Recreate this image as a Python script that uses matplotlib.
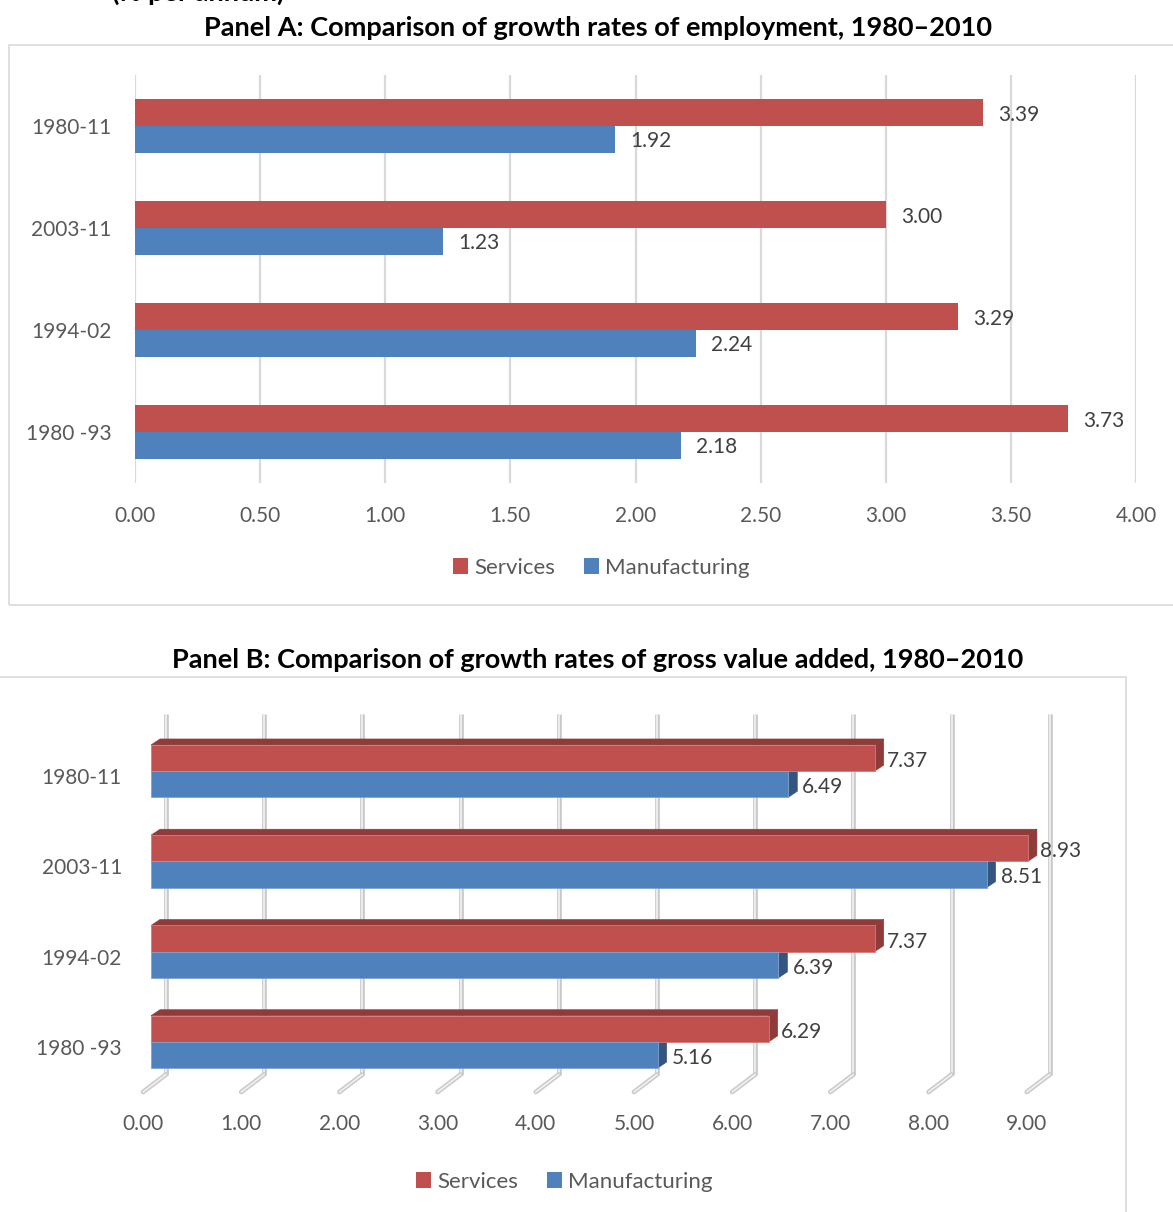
import matplotlib
matplotlib.use("Agg")
import matplotlib.pyplot as plt
from matplotlib.patches import Patch, Polygon, Rectangle
from matplotlib.transforms import ScaledTranslation
import matplotlib.patheffects as pe

# ---- data -------------------------------------------------------------
periods = ["1980-11", "2003-11", "1994-02", "1980 -93"]
series_names = ["Services", "Manufacturing"]

emp_services = [3.39, 3.00, 3.29, 3.73]
emp_manufacturing = [1.92, 1.23, 2.24, 2.18]
emp_ticks = [0.0, 0.5, 1.0, 1.5, 2.0, 2.5, 3.0, 3.5, 4.0]

gva_services = [7.37, 8.93, 7.37, 6.29]
gva_manufacturing = [6.49, 8.51, 6.39, 5.16]
gva_ticks = [0, 1, 2, 3, 4, 5, 6, 7, 8, 9]

title_a = "Panel A: Comparison of growth rates of employment, 1980\u20132010"
title_b = "Panel B: Comparison of growth rates of gross value added, 1980\u20132010"
unit_note = "(% per annum)"

# ---- style ------------------------------------------------------------
RED = "#C0504D"
BLUE = "#4F81BD"
RED_DARK = "#8E3B39"
BLUE_DARK = "#34557F"
GRID = "#D9D9D9"
TICK = "#595959"
VALUE = "#404040"
FONT = ["Lato", "DejaVu Sans"]
plt.rcParams["font.family"] = FONT

W, H, DPI = 1173, 1212, 100
fig = plt.figure(figsize=(W / DPI, H / DPI), dpi=DPI)


def px_box(left, top, right, bottom):
    return [left / W, 1 - bottom / H, (right - left) / W, (bottom - top) / H]


def shift(dx_px, dy_px):
    # screen offset in pixels (y measured upward)
    return ScaledTranslation(dx_px / DPI, dy_px / DPI, fig.dpi_scale_trans)


# ---- frames and titles --------------------------------------------------
frame_a = Rectangle((9 / W, 1 - 605 / H), 1.2, (605 - 45) / H,
                    transform=fig.transFigure, fill=False,
                    edgecolor=GRID, linewidth=1.2)
frame_b = Rectangle((-10 / W, 1 - 1230 / H), (1126 + 10) / W, (1230 - 677) / H,
                    transform=fig.transFigure, fill=False,
                    edgecolor=GRID, linewidth=1.2)
fig.add_artist(frame_a)
fig.add_artist(frame_b)

fig.text(598 / W, 1 - 28 / H, title_a, ha="center", va="center",
         fontsize=19.5, fontweight="bold", color="black")
fig.text(598 / W, 1 - 660 / H, title_b, ha="center", va="center",
         fontsize=19.5, fontweight="bold", color="black")
# heading line above the panels, running off the top edge of the page
fig.text(112 / W, 1 - 1 / H, unit_note, ha="left", va="baseline",
         fontsize=19.5, fontweight="bold", color="black")

BAR_H_A = 0.26
BAR_H_B = 0.29
ypos = list(range(len(periods)))

# ---- Panel A: flat clustered bars --------------------------------------
ax_a = fig.add_axes(px_box(135, 75, 1136, 483))
ax_a.barh([y - BAR_H_A / 2 for y in ypos], emp_services, height=BAR_H_A,
          color=RED, zorder=3)
ax_a.barh([y + BAR_H_A / 2 for y in ypos], emp_manufacturing, height=BAR_H_A,
          color=BLUE, zorder=3)
ax_a.set_xlim(emp_ticks[0], emp_ticks[-1])
ax_a.set_ylim(len(periods) - 0.5, -0.5)
ax_a.set_xticks(emp_ticks)
ax_a.set_xticklabels([f"{t:.2f}" for t in emp_ticks])
ax_a.set_yticks(ypos)
ax_a.set_yticklabels(periods)
ax_a.grid(axis="x", color=GRID, linewidth=1.6, zorder=0)
ax_a.set_axisbelow(True)
for s in ax_a.spines.values():
    s.set_visible(False)
ax_a.tick_params(axis="both", length=0, labelsize=15, labelcolor=TICK)
ax_a.tick_params(axis="x", pad=16.2)
ax_a.tick_params(axis="y", pad=17)

for y, v in zip(ypos, emp_services):
    ax_a.text(v, y - BAR_H_A / 2, f"{v:.2f}", ha="left", va="center",
              fontsize=15, color=VALUE,
              transform=ax_a.transData + shift(15, -2))
for y, v in zip(ypos, emp_manufacturing):
    ax_a.text(v, y + BAR_H_A / 2, f"{v:.2f}", ha="left", va="center",
              fontsize=15, color=VALUE,
              transform=ax_a.transData + shift(15, -2))

handles = [Patch(facecolor=RED, edgecolor="none"),
           Patch(facecolor=BLUE, edgecolor="none")]
fig.legend(handles, series_names, loc="center", bbox_to_anchor=(601 / W, 1 - 568 / H),
           ncol=2, frameon=False, fontsize=16, labelcolor=TICK,
           handlelength=0.7, handleheight=0.7, handletextpad=0.25,
           columnspacing=1.3)

# ---- Panel B: bars with a 3-D look -------------------------------------
left_b, top_b, bottom_b = 151, 726, 1087
unit_px = 98.2
xmax_b = 9.3
ax_b = fig.add_axes(px_box(left_b, top_b, left_b + xmax_b * unit_px, bottom_b))
ax_b.set_xlim(0, xmax_b)
ax_b.set_ylim(len(periods) - 0.5, -0.5)
ax_b.axis("off")
ax_b.patch.set_visible(False)

cat_px = (bottom_b - top_b) / len(periods)
depth_dx = 9 / unit_px        # bar depth, data units along x
depth_dy = 6 / cat_px         # bar depth, category units (upward)

# back wall grid lines and floor
wall_dx, wall_dy = 15, 12.5
floor_dx, floor_dy = -8, -5
h_px = bottom_b - top_b
grid_fx = [pe.withStroke(linewidth=3.4, foreground="#C9C9C9")]
for t in gva_ticks:
    ax_b.vlines(t, wall_dy / h_px, 1 + wall_dy / h_px,
                transform=ax_b.get_xaxis_transform() + shift(wall_dx, 0),
                color="#EFEFEF", linewidth=1.3, path_effects=grid_fx,
                clip_on=False, zorder=0)
    ax_b.plot([t + wall_dx / unit_px, t + floor_dx / unit_px],
              [wall_dy / h_px, floor_dy / h_px],
              transform=ax_b.get_xaxis_transform(), color="#EFEFEF",
              linewidth=1.3, path_effects=grid_fx, clip_on=False, zorder=0,
              solid_capstyle="round")
    ax_b.text(t + floor_dx / unit_px, -37 / h_px, f"{t:.2f}",
              transform=ax_b.get_xaxis_transform(), ha="center", va="center",
              fontsize=15, color=TICK)

for y, lab in zip(ypos, periods):
    ax_b.text(-29 / unit_px, y, lab, ha="right", va="center",
              fontsize=15, color=TICK,
              transform=ax_b.transData + shift(0, -7))


def bar3d(ax, y_top, value, height, face, dark, top_face):
    y_bot = y_top + height
    side = Polygon([(value, y_bot), (value, y_top),
                    (value + depth_dx, y_top - depth_dy),
                    (value + depth_dx, y_bot - depth_dy)],
                   closed=True, facecolor=dark, edgecolor=dark,
                   linewidth=0.4, zorder=2, clip_on=False)
    ax.add_patch(side)
    if top_face:
        top = Polygon([(0, y_top), (value, y_top),
                       (value + depth_dx, y_top - depth_dy),
                       (depth_dx, y_top - depth_dy)],
                      closed=True, facecolor=dark, edgecolor=dark,
                      linewidth=0.4, zorder=2, clip_on=False)
        ax.add_patch(top)


for y, v in zip(ypos, gva_manufacturing):
    bar3d(ax_b, y, v, BAR_H_B, BLUE, BLUE_DARK, top_face=False)
for y, v in zip(ypos, gva_services):
    bar3d(ax_b, y - BAR_H_B, v, BAR_H_B, RED, RED_DARK, top_face=True)

ax_b.barh([y - BAR_H_B / 2 for y in ypos], gva_services, height=BAR_H_B,
          color=RED, edgecolor="#D27B78", linewidth=0.6, zorder=3)
ax_b.barh([y + BAR_H_B / 2 for y in ypos], gva_manufacturing, height=BAR_H_B,
          color=BLUE, edgecolor="#7FA3CF", linewidth=0.6, zorder=3)

for y, v in zip(ypos, gva_services):
    ax_b.text(v, y - BAR_H_B / 2, f"{v:.2f}", ha="left", va="center",
              fontsize=15, color=VALUE, zorder=4,
              transform=ax_b.transData + shift(12, -3))
for y, v in zip(ypos, gva_manufacturing):
    ax_b.text(v, y + BAR_H_B / 2, f"{v:.2f}", ha="left", va="center",
              fontsize=15, color=VALUE, zorder=4,
              transform=ax_b.transData + shift(14, -3))

fig.legend(handles, series_names, loc="center", bbox_to_anchor=(564 / W, 1 - 1182 / H),
           ncol=2, frameon=False, fontsize=16, labelcolor=TICK,
           handlelength=0.7, handleheight=0.7, handletextpad=0.25,
           columnspacing=1.3)

fig.savefig("out.png", dpi=DPI)
